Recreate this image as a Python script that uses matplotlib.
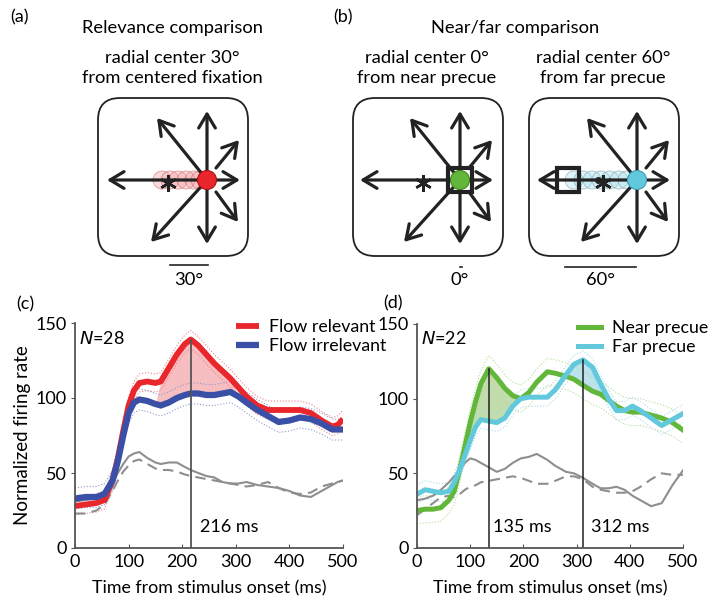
import numpy as np
import matplotlib
matplotlib.use("Agg")
import matplotlib.pyplot as plt
from matplotlib.patches import FancyBboxPatch, Circle, Rectangle

plt.rcParams['font.family'] = ['Lato', 'DejaVu Sans']

# ---- panel (c) data: relevance comparison, N=28
t_c = [0, 20, 40, 55, 70, 80, 90, 100, 110, 120, 135, 150, 160, 175, 190, 205, 216,
       230, 245, 260, 275, 290, 305, 320, 340, 360, 380, 400, 420, 440, 460, 480, 490, 500]
relevant = [28, 29, 30, 32, 45, 60, 78, 95, 105, 110, 111, 110, 111, 120, 129, 136, 139,
            135, 129, 123, 118, 113, 107, 101, 95, 92, 92, 92, 92, 90, 85, 81, 82, 86]
irrelevant = [33, 34, 34, 36, 45, 58, 75, 90, 97, 99, 98, 96, 95, 97, 100, 102, 103,
              103, 102, 102, 103, 104, 101, 97, 92, 88, 84, 85, 87, 86, 83, 79, 79, 79]
base_rel = [31, 32, 33, 35, 43, 50, 56, 61, 63, 64, 60, 57, 56, 57, 57, 54, 52,
            50, 48, 47, 44, 43, 43, 44, 42, 41, 40, 38, 35, 34, 38, 42, 44, 45]
base_irr = [23, 23, 25, 29, 38, 45, 51, 55, 58, 59, 56, 53, 52, 52, 51, 49, 48,
            47, 46, 45, 44, 43, 42, 41, 42, 44, 40, 37, 36, 37, 41, 43, 44, 45]
sem_rel = 6
sem_irr = 7
peak_c = 216

# ---- panel (d) data: near/far comparison, N=22
t_d = [0, 15, 30, 45, 60, 70, 80, 90, 100, 110, 120, 135, 150, 165, 180, 195, 210,
       225, 245, 260, 280, 295, 312, 330, 345, 360, 375, 390, 405, 420, 440, 460, 480, 500]
near = [25, 26, 26, 27, 32, 38, 52, 68, 84, 98, 110, 120, 114, 107, 102, 100, 104,
        111, 118, 117, 115, 113, 109, 105, 103, 99, 95, 92, 91, 91, 89, 87, 84, 79]
far = [36, 39, 38, 37, 38, 44, 52, 62, 72, 81, 86, 85, 84, 87, 95, 100, 101,
       101, 101, 106, 116, 123, 126, 121, 110, 100, 92, 92, 95, 92, 87, 82, 86, 90]
base_near = [32, 33, 35, 39, 44, 48, 52, 57, 60, 59, 57, 54, 51, 53, 57, 60, 61,
             63, 59, 55, 51, 50, 47, 43, 40, 40, 41, 39, 35, 32, 28, 30, 42, 52]
base_far = [22, 26, 30, 34, 35, 34, 36, 39, 41, 42, 44, 45, 46, 47, 48, 47, 45,
            43, 43, 45, 48, 48, 46, 41, 39, 38, 37, 37, 38, 41, 46, 50, 49, 49]
sem_near = 9
sem_far = 6
peaks_d = [135, 312]

# ---- schematic geometry (figure pixels)
arrow_tips = [(-100, 0), (33, 0), (0, -69), (0, 64), (-50, -62), (-56, 62), (32, -40), (31, 42)]
arrow_starts = [(0, 0), (0, 0), (0, 0), (0, 0), (0, 0), (0, 0), (9, -12), (9, 12)]
box_x = [98, 353, 529]
centers = [207, 460, 637]
cy0 = 180

RED = '#e8262b'
BLUE = '#3a50a6'
GREEN = '#62b73a'
CYAN = '#62c9dd'
GRAY = '#8e8e8e'
FS = 13

fig = plt.figure(figsize=(7.19, 6.06), dpi=100)
top = fig.add_axes([0, 0, 1, 1])
top.set_xlim(0, 719)
top.set_ylim(606, 0)
top.axis('off')

# titles
top.text(10, 17, '(a)', fontsize=FS, va='center')
top.text(333, 17, '(b)', fontsize=FS, va='center')
top.text(172, 28, 'Relevance comparison', fontsize=13.2, ha='center', va='center')
top.text(172, 58, 'radial center 30\u00b0', fontsize=13.2, ha='center', va='center')
top.text(172, 78, 'from centered fixation', fontsize=13.2, ha='center', va='center')
top.text(515, 28, 'Near/far comparison', fontsize=13.2, ha='center', va='center')
top.text(427, 58, 'radial center 0\u00b0', fontsize=13.2, ha='center', va='center')
top.text(427, 78, 'from near precue', fontsize=13.2, ha='center', va='center')
top.text(603, 58, 'radial center 60\u00b0', fontsize=13.2, ha='center', va='center')
top.text(603, 78, 'from far precue', fontsize=13.2, ha='center', va='center')

for bx, cx in zip(box_x, centers):
    top.add_patch(FancyBboxPatch((bx, 98), 150, 158,
                                 boxstyle='round,pad=0,rounding_size=22',
                                 fc='white', ec='#222222', lw=1.3))
    for (tx, ty), (sx, sy) in zip(arrow_tips, arrow_starts):
        top.annotate('', xy=(cx + tx, cy0 + ty), xytext=(cx + sx, cy0 + sy),
                     arrowprops=dict(arrowstyle='->,head_length=1.0,head_width=0.6',
                                     lw=2.3, color='#222222', mutation_scale=10,
                                     shrinkA=0, shrinkB=0))

# (a) trail of red circles
for x in [162, 170, 178, 186, 194, 200]:
    top.add_patch(Circle((x, cy0), 9, fc=(0.95, 0.6, 0.62, 0.35), ec=(0.8, 0.4, 0.4, 0.6), lw=0.6))
top.plot(168, 183, marker=(6, 2, 0), ms=12, mew=1.8, color='#222222')
top.add_patch(Circle((207, cy0), 9.5, fc=RED, ec='#aa1111', lw=0.8, zorder=5))
top.plot([170, 208], [265, 265], color='#222222', lw=1.2)
top.text(189, 280, '30\u00b0', fontsize=13.2, ha='center', va='center')

# (b) near
top.plot(423, 183, marker=(6, 2, 0), ms=12, mew=1.8, color='#222222')
top.add_patch(Circle((460, cy0), 9.5, fc=GREEN, ec='#3f8a1f', lw=0.8, zorder=5))
top.add_patch(Rectangle((448, 168), 24, 24, fc='none', ec='#222222', lw=3, zorder=6))
top.plot([459.5, 461.5], [267, 267], color='#222222', lw=1.2)
top.text(460, 280, '0\u00b0', fontsize=13.2, ha='center', va='center')

# (b) far
for x in [574, 583, 592, 601, 610, 619, 627]:
    top.add_patch(Circle((x, cy0), 9, fc=(0.6, 0.85, 0.9, 0.3), ec=(0.45, 0.6, 0.65, 0.6), lw=0.6))
top.plot(603, 183, marker=(6, 2, 0), ms=12, mew=1.8, color='#222222')
top.plot(598, 180, 'o', ms=4, color='#222222')
top.add_patch(Circle((637, cy0), 9.5, fc=CYAN, ec='#3a9ab0', lw=0.8, zorder=5))
top.add_patch(Rectangle((557, 168), 22, 24, fc='none', ec='#222222', lw=3, zorder=6))
top.plot([565, 636], [267, 267], color='#222222', lw=1.2)
top.text(600, 280, '60\u00b0', fontsize=13.2, ha='center', va='center')

top.text(25, 304, '(c)', fontsize=FS, ha='center', va='center')
top.text(393, 303, '(d)', fontsize=FS, ha='center', va='center')


def style(ax):
    ax.set_xlim(0, 500)
    ax.set_ylim(0, 150)
    ax.set_xticks([0, 100, 200, 300, 400, 500])
    ax.set_yticks([0, 50, 100, 150])
    for s in ['top', 'right']:
        ax.spines[s].set_visible(False)
    for s in ['left', 'bottom']:
        ax.spines[s].set_color('#555555')
        ax.spines[s].set_linewidth(1.3)
    ax.tick_params(axis='x', direction='in', length=3, color='#555555', labelsize=13, pad=4)
    ax.tick_params(axis='y', direction='out', length=3, color='#555555', labelsize=13, pad=3)
    ax.set_xlabel('Time from stimulus onset (ms)', fontsize=12.8, labelpad=8)
    ax.patch.set_alpha(0)


# ---- panel (c)
axc = fig.add_axes([75 / 719, 58 / 606, 268 / 719, 225 / 606])
style(axc)
rel = np.array(relevant)
irr = np.array(irrelevant)
tc = np.array(t_c)
mask = (tc >= 160) & (tc <= 300)
axc.fill_between(tc, irr, rel, where=mask, color='#f4a9ad', alpha=0.75, lw=0, interpolate=True)
for y, sem, col in [(rel, sem_rel, '#f08080'), (irr, sem_irr, '#8f9ad0')]:
    axc.plot(tc, y + sem, ':', color=col, lw=0.8)
    axc.plot(tc, y - sem, ':', color=col, lw=0.8)
axc.plot(tc, base_irr, '--', color=GRAY, lw=1.5, dashes=(5, 3))
axc.plot(tc, base_rel, '-', color=GRAY, lw=1.5)
axc.plot(tc, rel, color=RED, lw=4.2, solid_capstyle='butt', label='Flow relevant')
axc.plot(tc, irr, color=BLUE, lw=4.5, solid_capstyle='butt', label='Flow irrelevant')
axc.plot([peak_c, peak_c], [0, rel[t_c.index(peak_c)]], color='#555555', lw=1.3)
axc.text(peak_c + 18, 14, '%d ms' % peak_c, fontsize=FS, va='center')
axc.text(8, 140, '$N$=28', fontsize=FS, va='center')
axc.set_ylabel('Normalized firing rate', fontsize=13.5, labelpad=3)
axc.legend(loc='upper right', bbox_to_anchor=(1.19, 1.05), frameon=False, fontsize=12.8,
           handlelength=1.3, handletextpad=0.6, labelspacing=0.2, borderaxespad=0)

# ---- panel (d)
axd = fig.add_axes([417 / 719, 58 / 606, 266 / 719, 224 / 606])
style(axd)
nr = np.array(near)
fr = np.array(far)
td = np.array(t_d)
axd.fill_between(td, fr, nr, where=(td >= 80) & (td <= 200) & (nr >= fr),
                 color='#bcd9a3', alpha=0.9, lw=0, interpolate=True)
axd.fill_between(td, nr, fr, where=(td >= 260) & (td <= 350) & (fr >= nr),
                 color='#b5e0ea', alpha=0.9, lw=0, interpolate=True)
for y, sem, col in [(nr, sem_near, '#b3e09a'), (fr, sem_far, '#a8dcea')]:
    axd.plot(td, y + sem, ':', color=col, lw=0.8)
    axd.plot(td, y - sem, ':', color=col, lw=0.8)
axd.plot(td, base_far, '--', color=GRAY, lw=1.5, dashes=(5, 3))
axd.plot(td, base_near, '-', color=GRAY, lw=1.5)
axd.plot(td, nr, color=GREEN, lw=3.6, label='Near precue')
axd.plot(td, fr, color=CYAN, lw=3.6, label='Far precue')
for p, curve, off in zip(peaks_d, [nr, fr], [8, 15]):
    axd.plot([p, p], [0, curve[t_d.index(p)]], color='#222222', lw=1.1)
    axd.text(p + off, 14, '%d ms' % p, fontsize=FS, va='center')
axd.text(8, 140, '$N$=22', fontsize=FS, va='center')
axd.legend(loc='upper right', bbox_to_anchor=(1.12, 1.05), frameon=False, fontsize=12.8,
           handlelength=1.3, handletextpad=0.6, labelspacing=0.2, borderaxespad=0)

fig.savefig('out.png', dpi=100)
